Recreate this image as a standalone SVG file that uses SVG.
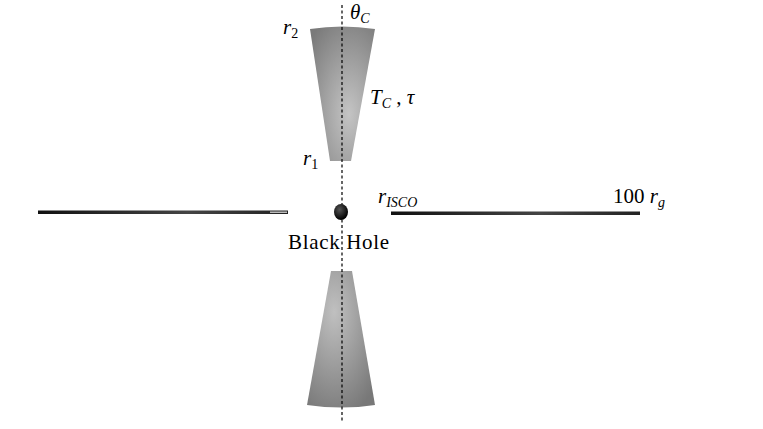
<svg xmlns="http://www.w3.org/2000/svg" width="763" height="429" viewBox="0 0 763 429">
<style>
.t{font-family:"Liberation Serif","DejaVu Serif",serif;font-size:21px;fill:#000}
.i{font-style:italic}
.s{font-size:14px}
</style>
<defs>
<radialGradient id="g1" cx="0.6" cy="0.65" r="0.8"><stop offset="0" stop-color="#c4c4c4"/><stop offset="1" stop-color="#7a7a7a"/></radialGradient>
<radialGradient id="g2" cx="0.4" cy="0.3" r="0.8"><stop offset="0" stop-color="#c0c0c0"/><stop offset="1" stop-color="#787878"/></radialGradient>
<radialGradient id="bh" cx="0.4" cy="0.35" r="0.6"><stop offset="0" stop-color="#555"/><stop offset="1" stop-color="#050505"/></radialGradient>
<linearGradient id="d" x1="0" x2="1"><stop offset="0" stop-color="#111"/><stop offset="0.6" stop-color="#444"/><stop offset="1" stop-color="#222"/></linearGradient>
</defs>
<rect width="763" height="429" fill="#fff"/>
<g id="upper-cone"><path d="M310,29 Q342,24 375,29 L351,161 L330,161 Z" fill="url(#g1)"/></g>
<g id="lower-cone"><path d="M331,271 L352,271 L375,405 Q342,410 307,405 Z" fill="url(#g2)"/></g>
<g id="disk-left"><rect x="38" y="210.5" width="250" height="3.5" fill="url(#d)"/><rect x="270" y="211.5" width="17" height="1.5" fill="#bbb"/></g>
<g id="disk-right"><rect x="391" y="211.5" width="249" height="3.5" fill="url(#d)"/></g>
<g id="connectors"><line x1="342" y1="5" x2="342" y2="422" stroke="#000" stroke-width="1.2" stroke-dasharray="3,2.5"/></g>
<g id="black-hole"><ellipse cx="341" cy="212" rx="7" ry="8" fill="url(#bh)"/></g>
<g id="labels">
<text class="t" x="283" y="34"><tspan class="i">r</tspan><tspan class="s" dy="4">2</tspan></text>
<text class="t" x="350" y="19"><tspan class="i">θ</tspan><tspan class="s i" dy="4">C</tspan></text>
<text class="t" x="370" y="104"><tspan class="i">T</tspan><tspan class="s i" dy="4">C</tspan><tspan dy="-4"> , </tspan><tspan class="i">τ</tspan></text>
<text class="t" x="303" y="165"><tspan class="i">r</tspan><tspan class="s" dy="4">1</tspan></text>
<text class="t" x="378" y="203"><tspan class="i">r</tspan><tspan class="s i" dy="4">ISCO</tspan></text>
<text class="t" x="613" y="203">100 <tspan class="i">r</tspan><tspan class="s i" dy="4">g</tspan></text>
<text class="t" x="288" y="249" textLength="101">Black Hole</text>
</g>
</svg>
